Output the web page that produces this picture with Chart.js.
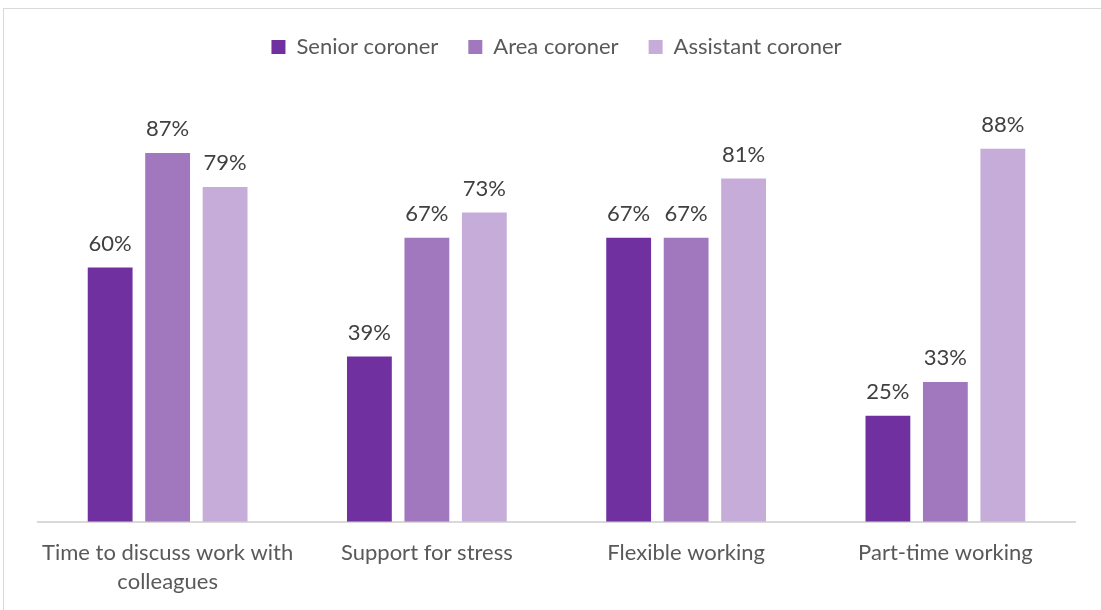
<!DOCTYPE html>
<html>
<head>
<meta charset="utf-8">
<script src="https://cdn.jsdelivr.net/npm/chart.js@4/dist/chart.umd.min.js"></script>
<style>
  html, body { margin: 0; padding: 0; background: #fff; }
  #frame { position: absolute; left: 3px; top: 8px; width: 1200px; height: 700px; border: 1px solid #d9d9d9; }
  #wrap { position: absolute; left: 0; top: 0; width: 1101px; height: 610px; }
</style>
</head>
<body>
<div id="frame"></div>
<div id="wrap"><canvas id="chart"></canvas></div>
<script>
// categorías y series
const categories = [['Time to discuss work with', 'colleagues'], 'Support for stress', 'Flexible working', 'Part-time working'];
const seriesNames = ['Senior coroner', 'Area coroner', 'Assistant coroner'];
const senior = [60, 39, 67, 25];
const area = [87, 67, 67, 33];
const assistant = [79, 73, 81, 88];
const colors = ['#7030a0', '#a178be', '#c6acd9'];

const FONT = 'Lato, "Noto Sans", sans-serif';

// etiquetas de valor encima de cada barra
const valueLabels = {
  id: 'valueLabels',
  afterDatasetsDraw(chart) {
    const ctx = chart.ctx;
    ctx.save();
    ctx.font = '22px ' + FONT;
    ctx.fillStyle = '#404040';
    ctx.textAlign = 'center';
    ctx.textBaseline = 'bottom';
    chart.data.datasets.forEach((ds, i) => {
      chart.getDatasetMeta(i).data.forEach((bar, j) => {
        ctx.fillText(ds.data[j] + '%', bar.x, bar.y - 13);
      });
    });
    ctx.restore();
  }
};

// espacio extra bajo la leyenda
const legendGap = {
  id: 'legendGap',
  beforeInit(chart) {
    const fit = chart.legend.fit;
    chart.legend.fit = function () {
      fit.call(this);
      this.height += 30;
    };
  }
};

new Chart(document.getElementById('chart'), {
  type: 'bar',
  data: {
    labels: categories,
    datasets: [
      { label: seriesNames[0], data: senior, backgroundColor: colors[0] },
      { label: seriesNames[1], data: area, backgroundColor: colors[1] },
      { label: seriesNames[2], data: assistant, backgroundColor: colors[2] }
    ]
  },
  options: {
    responsive: true,
    maintainAspectRatio: false,
    animation: false,
    categoryPercentage: 0.665,
    barPercentage: 0.78,
    layout: { padding: { left: 38, right: 26, top: 6, bottom: -3 } },
    plugins: {
      legend: {
        position: 'top',
        labels: {
          boxWidth: 14,
          boxHeight: 14,
          padding: 30,
          color: '#595959',
          font: { family: FONT, size: 22 }
        }
      },
      tooltip: { enabled: false }
    },
    scales: {
      x: {
        grid: { display: false, drawTicks: false },
        border: { display: true, color: '#d9d9d9', width: 2 },
        ticks: { color: '#595959', font: { family: FONT, size: 22, lineHeight: 1.3 }, padding: 17, maxRotation: 0 }
      },
      y: {
        display: false,
        min: 0,
        max: 100
      }
    }
  },
  plugins: [valueLabels, legendGap]
});
</script>
</body>
</html>
